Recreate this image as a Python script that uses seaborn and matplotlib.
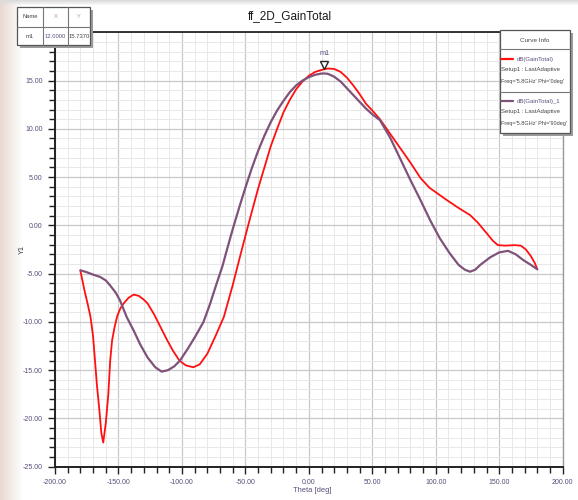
import numpy as np
import matplotlib
matplotlib.use("Agg")
import matplotlib.pyplot as plt
from matplotlib.patches import Rectangle
from matplotlib.lines import Line2D
from matplotlib.ticker import MultipleLocator, FormatStrFormatter
from matplotlib.transforms import offset_copy
import seaborn as sns

# dB(GainTotal), Phi = 0deg
theta_phi0 = [-180, -177, -174, -172, -170, -168.5, -167, -165, -163.5, -162, -160, -158,
              -156.5, -155, -153, -151, -148.5, -146, -142, -138, -134, -130, -127, -122,
              -117, -112, -107, -102, -97, -91, -86, -80, -74, -67, -60, -53, -47, -40,
              -35, -30, -25, -20, -15, -10, -5, 0, 5, 10, 15, 20, 25, 30, 35, 40, 45, 50,
              56, 64, 72, 80, 88, 95, 103, 110, 118, 127, 133, 140, 145, 149, 155, 162,
              167, 171, 175, 178, 180]
gain_phi0 = [-4.7, -6.6, -8.3, -9.5, -11.5, -14.0, -16.5, -19.2, -21.5, -22.5, -20.5, -17.5,
             -14.0, -11.9, -10.5, -9.4, -8.6, -8.1, -7.5, -7.17, -7.3, -7.7, -8.1, -9.2,
             -10.5, -11.8, -13.0, -14.0, -14.5, -14.7, -14.4, -13.3, -11.6, -9.5, -6.2, -2.6,
             0.4, 3.8, 6.0, 8.2, 10.0, 11.7, 13.0, 14.1, 14.9, 15.5, 15.9, 16.1, 16.25, 16.2,
             15.9, 15.3, 14.5, 13.6, 12.6, 11.9, 11.0, 9.5, 8.0, 6.5, 4.9, 3.9, 3.15, 2.5,
             1.8, 1.07, 0.3, -0.8, -1.6, -2.05, -2.1, -2.05, -2.1, -2.5, -3.2, -3.9, -4.55]

# dB(GainTotal)_1, Phi = 90deg
theta_phi90 = [-180, -175, -170, -164.5, -160, -156.7, -152, -148.8, -143.5, -138, -133, -127,
               -121, -116, -111, -106, -101.5, -95, -89, -83, -78, -72.6, -68, -64.7, -60,
               -55, -50, -45, -40, -35, -30, -25, -20, -15, -10, -5, 0, 5, 10, 12, 15, 20,
               25, 30, 35, 40, 45, 50, 56, 64, 72, 80, 88, 95.5, 103, 111, 118, 123, 127,
               131, 135, 143, 150, 157, 163, 169, 175, 180]
gain_phi90 = [-4.65, -4.85, -5.1, -5.34, -5.7, -6.2, -7.0, -7.77, -9.5, -10.9, -12.3, -13.7,
              -14.7, -15.15, -15.0, -14.6, -14.0, -12.7, -11.4, -10.0, -8.2, -6.0, -4.2, -2.6,
              -0.4, 1.8, 3.9, 5.9, 7.7, 9.3, 10.7, 11.9, 12.9, 13.8, 14.5, 15.0, 15.35, 15.6,
              15.73, 15.737, 15.7, 15.4, 14.9, 14.2, 13.5, 12.8, 12.1, 11.5, 10.9, 9.1, 6.9,
              4.7, 2.6, 0.55, -1.3, -2.9, -4.1, -4.6, -4.8, -4.6, -4.1, -3.3, -2.8, -2.64,
              -3.0, -3.6, -4.1, -4.55]

marker_name = "m1"
marker_theta = 12.0
marker_gain = 15.737

x_ticks = [-200, -150, -100, -50, 0, 50, 100, 150, 200]
y_ticks = [-25, -20, -15, -10, -5, 0, 5, 10, 15]

series_labels = ["dB(GainTotal)", "dB(GainTotal)_1"]
series_setup = ["Setup1 : LastAdaptive", "Setup1 : LastAdaptive"]
series_freq = ["Freq='5.8GHz' Phi='0deg'", "Freq='5.8GHz' Phi='90deg'"]
series_colors = ["#ff0f0f", "#7f5279"]

W, H = 578, 500
sns.set_style("white")
plt.rcParams["font.family"] = ["Liberation Sans Narrow", "Liberation Sans", "DejaVu Sans"]

TXT = "#5a4c7a"

fig = plt.figure(figsize=(W / 100, H / 100), dpi=100)
fig.patch.set_facecolor("white")


def fx(px):
    return px / W


def fy(py):
    return 1 - py / H


# soft backdrop along the left and top edges
bg = fig.add_axes([0, 0, 1, 1], zorder=-10)
bg.axis("off")
img = np.ones((H, W, 3))
beige = np.array([0.91, 0.85, 0.82])
fade = np.clip(1 - np.arange(W) / 22.0, 0, 1)
img = img * (1 - fade[None, :, None]) + beige[None, None, :] * fade[None, :, None]
topfade = np.clip(1 - np.arange(H) / 5.0, 0, 1)
grey = np.array([0.86, 0.86, 0.86])
img = img * (1 - topfade[:, None, None]) + grey[None, None, :] * topfade[:, None, None]
bg.imshow(img, extent=[0, 1, 0, 1], aspect="auto")

# plot area
L, R, T, B = 55, 562.7, 32.3, 466.7
ax = fig.add_axes([fx(L), fy(B), (R - L) / W, (B - T) / H])
ax.set_facecolor("white")

sns.lineplot(x=theta_phi0, y=gain_phi0, ax=ax, color=series_colors[0], lw=1.3,
             sort=False, estimator=None)
sns.lineplot(x=theta_phi90, y=gain_phi90, ax=ax, color=series_colors[1], lw=1.6,
             sort=False, estimator=None)

ax.set_xlim(-200, 200)
ax.set_ylim(-25, 20)
ax.set_xticks(x_ticks)
ax.set_yticks(y_ticks)
ax.xaxis.set_minor_locator(MultipleLocator(10))
ax.yaxis.set_minor_locator(MultipleLocator(1))
ax.xaxis.set_major_formatter(FormatStrFormatter("%.2f"))
ax.yaxis.set_major_formatter(FormatStrFormatter("%.2f"))
ax.set_axisbelow(True)
ax.grid(which="major", color="#c8c8c8", lw=0.9)
ax.grid(which="minor", color="#e8e8e8", lw=0.7)
ax.tick_params(which="both", bottom=True, left=True, direction="out", color="#222222",
               width=1.0)
ax.tick_params(which="major", length=5, labelsize=5.0, labelcolor=TXT, pad=4)
ax.tick_params(which="minor", length=4)
for side in ["left", "bottom"]:
    ax.spines[side].set_color("#222222")
    ax.spines[side].set_linewidth(1.4)
ax.spines["top"].set_color("#111111")
ax.spines["top"].set_linewidth(1.2)
ax.spines["right"].set_color("#9a9a9a")
ax.spines["right"].set_linewidth(1.0)
ax.set_xlabel("")
ax.set_ylabel("")

# marker m1
mk_tr = offset_copy(ax.transData, fig=fig, x=0, y=8, units="dots")
ax.plot([marker_theta], [marker_gain], marker="v", ms=5.5, mfc="white", mec="#222222",
        mew=1.0, transform=mk_tr, clip_on=False, zorder=5)
ax.annotate(marker_name, xy=(marker_theta, marker_gain), xytext=(0, 20),
            textcoords="offset pixels", ha="center", va="center", fontsize=5.2,
            color=TXT, zorder=5)

# title and axis labels
fig.text(fx(290), fy(16), "ff_2D_GainTotal", ha="center", va="center", fontsize=8.5,
         color="#1a1a1a")
fig.text(fx(22), fy(250), "Y1", ha="center", va="center", rotation=90, fontsize=5.2,
         color="#333333")
fig.text(fx(312), fy(491), "Theta [deg]", ha="center", va="center", fontsize=5.4,
         color=TXT)


def box(x0, y0, x1, y1, shadow=2.5):
    fig.patches.append(Rectangle((fx(x0 + shadow), fy(y1 + shadow)), (x1 - x0) / W,
                                 (y1 - y0) / H, transform=fig.transFigure,
                                 facecolor="#9c9c9c", edgecolor="none", zorder=20))
    fig.patches.append(Rectangle((fx(x0), fy(y1)), (x1 - x0) / W, (y1 - y0) / H,
                                 transform=fig.transFigure, facecolor="white",
                                 edgecolor="#555555", lw=0.9, zorder=21))


def hline(x0, x1, y, color="#777777", lw=0.8):
    fig.lines.append(Line2D([fx(x0), fx(x1)], [fy(y), fy(y)], transform=fig.transFigure,
                            color=color, lw=lw, zorder=22))


def vline(x, y0, y1, color="#777777", lw=0.8):
    fig.lines.append(Line2D([fx(x), fx(x)], [fy(y0), fy(y1)], transform=fig.transFigure,
                            color=color, lw=lw, zorder=22))


# marker table
box(17, 7, 90, 45)
hline(17, 90, 27)
vline(43, 7, 45)
vline(68, 7, 45)
table_rows = [["Name", "X", "Y"],
              [marker_name, f"{marker_theta:.4f}", f"{marker_gain:.4f}"]]
row_y = [17, 36]
col_x = [30, 55.5, 79]
row_colors = [["#444444", "#c58bc0", "#c58bc0"], ["#444444", TXT, "#444444"]]
for r, row in enumerate(table_rows):
    for c, val in enumerate(row):
        fig.text(fx(col_x[c]), fy(row_y[r]), val, ha="center", va="center", fontsize=4.2,
                 color=row_colors[r][c], zorder=23)

# curve info legend
box(500, 30, 570, 133, shadow=3)
fig.text(fx(535), fy(40), "Curve Info", ha="center", va="center", fontsize=4.6,
         color="#444444", zorder=23)
hline(500, 570, 49)
hline(500, 570, 92)
entry_y = [59, 101]
for i in range(2):
    y0 = entry_y[i]
    hline(501, 513, y0, color=series_colors[i], lw=1.6)
    fig.text(fx(517), fy(y0), series_labels[i], ha="left", va="center", fontsize=4.3,
             color=TXT, zorder=23)
    fig.text(fx(501), fy(y0 + 11), series_setup[i], ha="left", va="center", fontsize=4.3,
             color="#444444", zorder=23)
    fig.text(fx(501), fy(y0 + 22), series_freq[i], ha="left", va="center", fontsize=4.0,
             color="#444444", zorder=23)

fig.savefig("out.png", dpi=100)
